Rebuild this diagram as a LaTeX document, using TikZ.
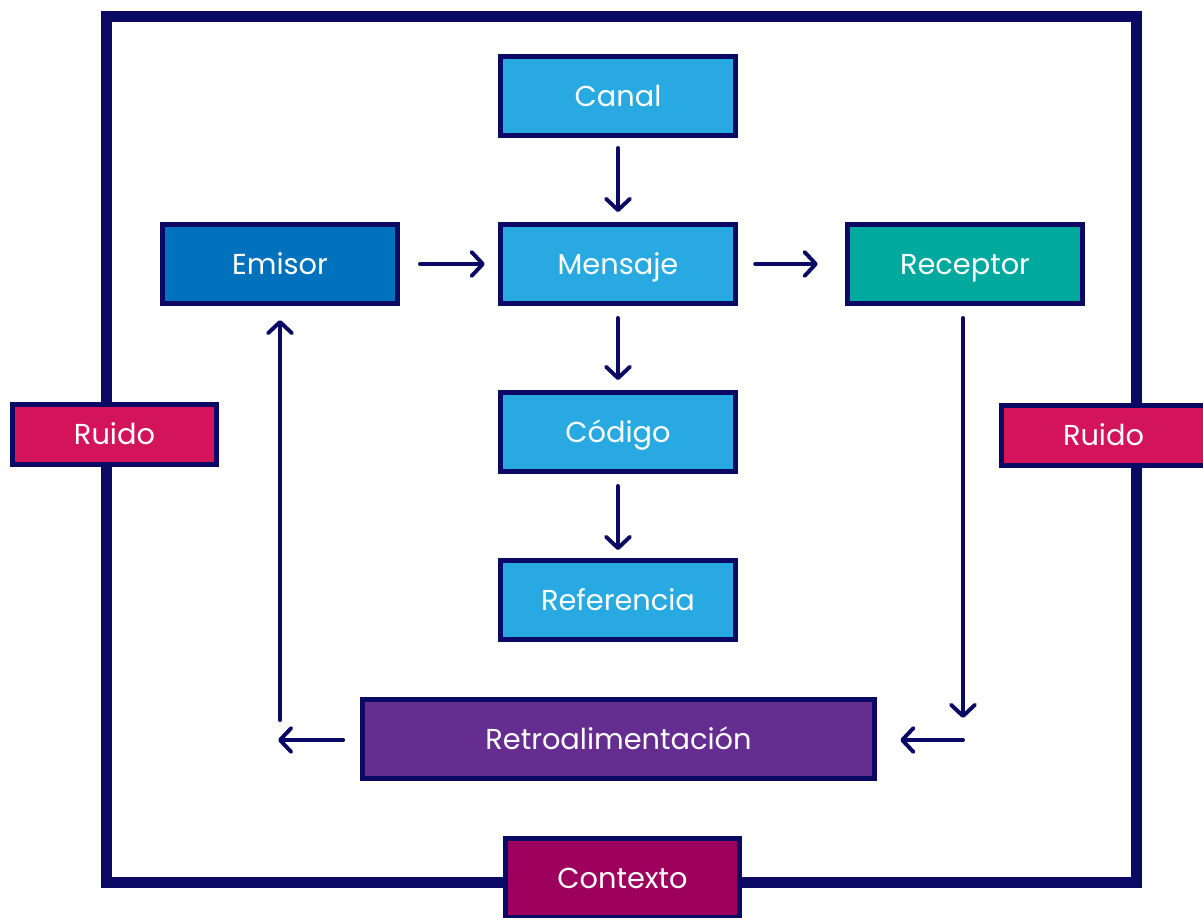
\documentclass[tikz,border=0pt]{standalone}
\usepackage{fontspec}
\setmainfont{Poppins}
\usetikzlibrary{arrows.meta}

\definecolor{navy}{RGB}{10,10,100}
\definecolor{celeste}{RGB}{41,169,225}
\definecolor{azul}{RGB}{0,113,188}
\definecolor{verde}{RGB}{0,169,157}
\definecolor{morado}{RGB}{102,45,145}
\definecolor{rojo}{RGB}{212,20,90}
\definecolor{vino}{RGB}{158,0,93}

\tikzset{
  caja/.style={draw=navy, line width=3.5pt, text=white, minimum width=5.875cm,
    minimum height=1.975cm, inner sep=0pt, text height=14.5pt, text depth=0pt,
    font=\fontsize{20.5}{20.5}\selectfont},
  flecha/.style={navy, line width=2.8pt, line cap=round,
    -{Straight Barb[round, length=8pt, width=17pt]}}
}

\begin{document}
\begin{tikzpicture}[x=0.025cm, y=-0.025cm]
\useasboundingbox (0,0) rectangle (1203,917);

% marco exterior
\draw[navy, line width=7.8pt] (106.5,16.5) rectangle (1136.5,882);

\node[caja, fill=celeste] (canal) at (618,96) {Canal};
\node[caja, fill=azul] (emisor) at (280,264) {Emisor};
\node[caja, fill=celeste] (mensaje) at (618,264) {Mensaje};
\node[caja, fill=verde] (receptor) at (965,264) {Receptor};
\node[caja, fill=celeste] (codigo) at (618,432) {Código};
\node[caja, fill=celeste] (referencia) at (618,600) {Referencia};
\node[caja, fill=morado, minimum width=12.8cm] (retro) at (618.5,739) {Retroalimentación};

\node[caja, fill=rojo, minimum width=5.1cm, minimum height=1.5cm] (ruidoL) at (114.5,434.5) {Ruido};
\node[caja, fill=rojo, minimum width=5.1cm, minimum height=1.5cm] (ruidoR) at (1103.5,435.5) {Ruido};
\node[caja, fill=vino, minimum width=5.85cm] (contexto) at (622.5,878) {Contexto};

\coordinate (fbL) at (280,720);
\coordinate (fbR) at (963,718);
\coordinate (retroL) at (278,740);
\coordinate (retroR) at (963,740);

\draw[flecha, shorten <=0.25cm, shorten >=0.25cm] (canal) -- (mensaje);
\draw[flecha, shorten <=0.5cm, shorten >=0.33cm] (emisor) -- (mensaje);
\draw[flecha, shorten <=0.43cm, shorten >=0.68cm] (mensaje) -- (receptor);
\draw[flecha, shorten <=0.3cm, shorten >=0.25cm] (mensaje) -- (codigo);
\draw[flecha, shorten <=0.3cm, shorten >=0.2cm] (codigo) -- (referencia);
\draw[flecha, shorten >=0.35cm] (fbL) -- (emisor);
\draw[flecha, shorten <=0.3cm] (receptor.south -| fbR) -- (fbR);
\draw[flecha, shorten <=0.42cm] (retro.west |- retroL) -- (retroL);
\draw[flecha, shorten >=0.58cm] (retroR) -- (retro.east |- retroR);
\end{tikzpicture}
\end{document}
